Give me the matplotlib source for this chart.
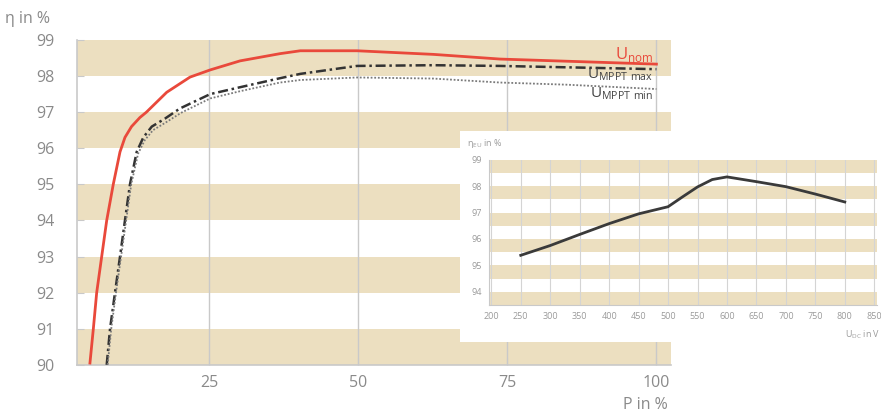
import matplotlib.pyplot as plt
from matplotlib.patches import Rectangle

# main chart: efficiency vs. power
P_NOM = [5.03, 5.6, 6.16, 7.0, 7.84, 8.94, 10.07, 10.9, 12.0, 13.4, 14.5, 17.9, 21.8, 25.2, 30.2, 36.9, 40.3, 49.8, 62.6, 73.8, 100]
ETA_NOM = [90.05, 91.0, 92.0, 93.0, 94.0, 95.0, 95.9, 96.3, 96.6, 96.85, 97.0, 97.55, 97.97, 98.17, 98.42, 98.62, 98.7, 98.7, 98.6, 98.47, 98.33]

P_MAX = [7.84, 8.4, 9.23, 10.07, 10.9, 11.74, 12.87, 13.98, 15.4, 17.6, 20.1, 25.2, 30.2, 36.9, 40.3, 49.8, 62.6, 73.8, 100]
ETA_MAX = [90.0, 91.0, 92.0, 93.0, 94.0, 95.0, 95.9, 96.3, 96.6, 96.82, 97.1, 97.5, 97.69, 97.94, 98.06, 98.28, 98.3, 98.28, 98.19]

P_MIN = [8.0, 8.6, 9.4, 10.25, 11.1, 11.95, 13.1, 14.2, 15.6, 17.8, 20.3, 25.2, 30.2, 36.9, 40.3, 49.8, 62.6, 73.8, 85, 100]
ETA_MIN = [90.0, 91.0, 92.0, 93.0, 94.0, 95.0, 95.85, 96.22, 96.5, 96.72, 96.98, 97.38, 97.58, 97.82, 97.89, 97.96, 97.93, 97.82, 97.76, 97.64]

# inset: EU efficiency vs. DC voltage
U_DC = [250, 300, 350, 400, 450, 500, 525, 550, 575, 600, 650, 700, 750, 800]
ETA_EU = [95.38, 95.75, 96.17, 96.58, 96.95, 97.22, 97.6, 97.97, 98.25, 98.35, 98.17, 97.98, 97.7, 97.4]

X_TICKS = [25, 50, 75, 100]
Y_TICKS = [90, 91, 92, 93, 94, 95, 96, 97, 98, 99]
INSET_X_TICKS = list(range(200, 851, 50))
INSET_Y_TICKS = [94, 95, 96, 97, 98, 99]

TAN = '#ecdfc0'
GREY = '#8a8a8a'
GRID = '#c9c9c9'

plt.rcParams['font.family'] = ['Open Sans', 'DejaVu Sans']
plt.rcParams['mathtext.fontset'] = 'custom'
plt.rcParams['mathtext.rm'] = 'Open Sans'

fig = plt.figure(figsize=(8.81, 4.16), dpi=100)
ax = fig.add_axes([0.087, 0.123, 0.675, 0.781])

for lo in range(90, 99, 2):
    ax.axhspan(lo, lo + 1, color=TAN, lw=0, zorder=0)
for x in X_TICKS:
    ax.axvline(x, color=GRID, lw=1, zorder=1)

ax.plot(P_NOM, ETA_NOM, color='#e9493b', lw=2, zorder=4)
ax.plot(P_MAX, ETA_MAX, color='#333333', lw=1.8, ls=(0, (4, 1.5, 1, 1.5)), zorder=3)
ax.plot(P_MIN, ETA_MIN, color='#7a7a7a', lw=1.3, ls=(0, (1, 1)), zorder=3)

ax.text(99.5, 98.48, 'U$_\\mathrm{nom}$', color='#e9493b', fontsize=12, ha='right', va='baseline', zorder=5)
ax.text(99.5, 97.93, 'U$_\\mathrm{MPPT\\ max}$', color='#444444', fontsize=11, ha='right', va='baseline', zorder=5)
ax.text(99.5, 97.40, 'U$_\\mathrm{MPPT\\ min}$', color='#444444', fontsize=11, ha='right', va='baseline', zorder=5)

ax.set_xlim(2.8, 102.5)
ax.set_ylim(90, 99)
ax.set_xticks(X_TICKS)
ax.set_yticks(Y_TICKS)
ax.tick_params(direction='in', colors=GRID, labelcolor=GREY, labelsize=11.5, length=5)
ax.tick_params(axis='y', pad=16)
ax.tick_params(axis='x', pad=7)
for s in ['top', 'right']:
    ax.spines[s].set_visible(False)
for s in ['left', 'bottom']:
    ax.spines[s].set_color(GRID)
    ax.spines[s].set_linewidth(1.2)

fig.text(0.006, 0.955, 'η in %', color=GREY, fontsize=11.5, ha='left', va='center')
fig.text(0.758, 0.027, 'P in %', color=GREY, fontsize=11.5, ha='right', va='center')

# white panel behind the inset
fig.patches.append(Rectangle((0.522, 0.178), 0.478, 0.507, transform=fig.transFigure,
                             facecolor='white', edgecolor='none', zorder=1))

ins = fig.add_axes([0.555, 0.267, 0.440, 0.349])
ins.set_zorder(2)
ins.patch.set_alpha(0)
for lo in [98.5, 97.5, 96.5, 95.5, 94.5, 93.5]:
    ins.axhspan(lo, lo + 0.5, color=TAN, lw=0, zorder=0)
for x in INSET_X_TICKS:
    ins.axvline(x, color='#d4d4d4', lw=0.8, zorder=1)
ins.plot(U_DC, ETA_EU, color='#3a3a3a', lw=2, zorder=3)
ins.set_xlim(196, 854)
ins.set_ylim(93.5, 99)
ins.set_xticks(INSET_X_TICKS)
ins.set_yticks(INSET_Y_TICKS)
ins.tick_params(length=0, labelcolor='#9a9a9a', labelsize=6.5, pad=5)
for s in ['top', 'right']:
    ins.spines[s].set_visible(False)
for s in ['left', 'bottom']:
    ins.spines[s].set_color(GRID)

fig.text(0.530, 0.656, 'η$_\\mathrm{EU}$ in %', color='#9a9a9a', fontsize=6.5, ha='left', va='center')
fig.text(0.999, 0.195, 'U$_\\mathrm{DC}$ in V', color='#9a9a9a', fontsize=6.5, ha='right', va='center')

fig.savefig('out.png', dpi=100)
